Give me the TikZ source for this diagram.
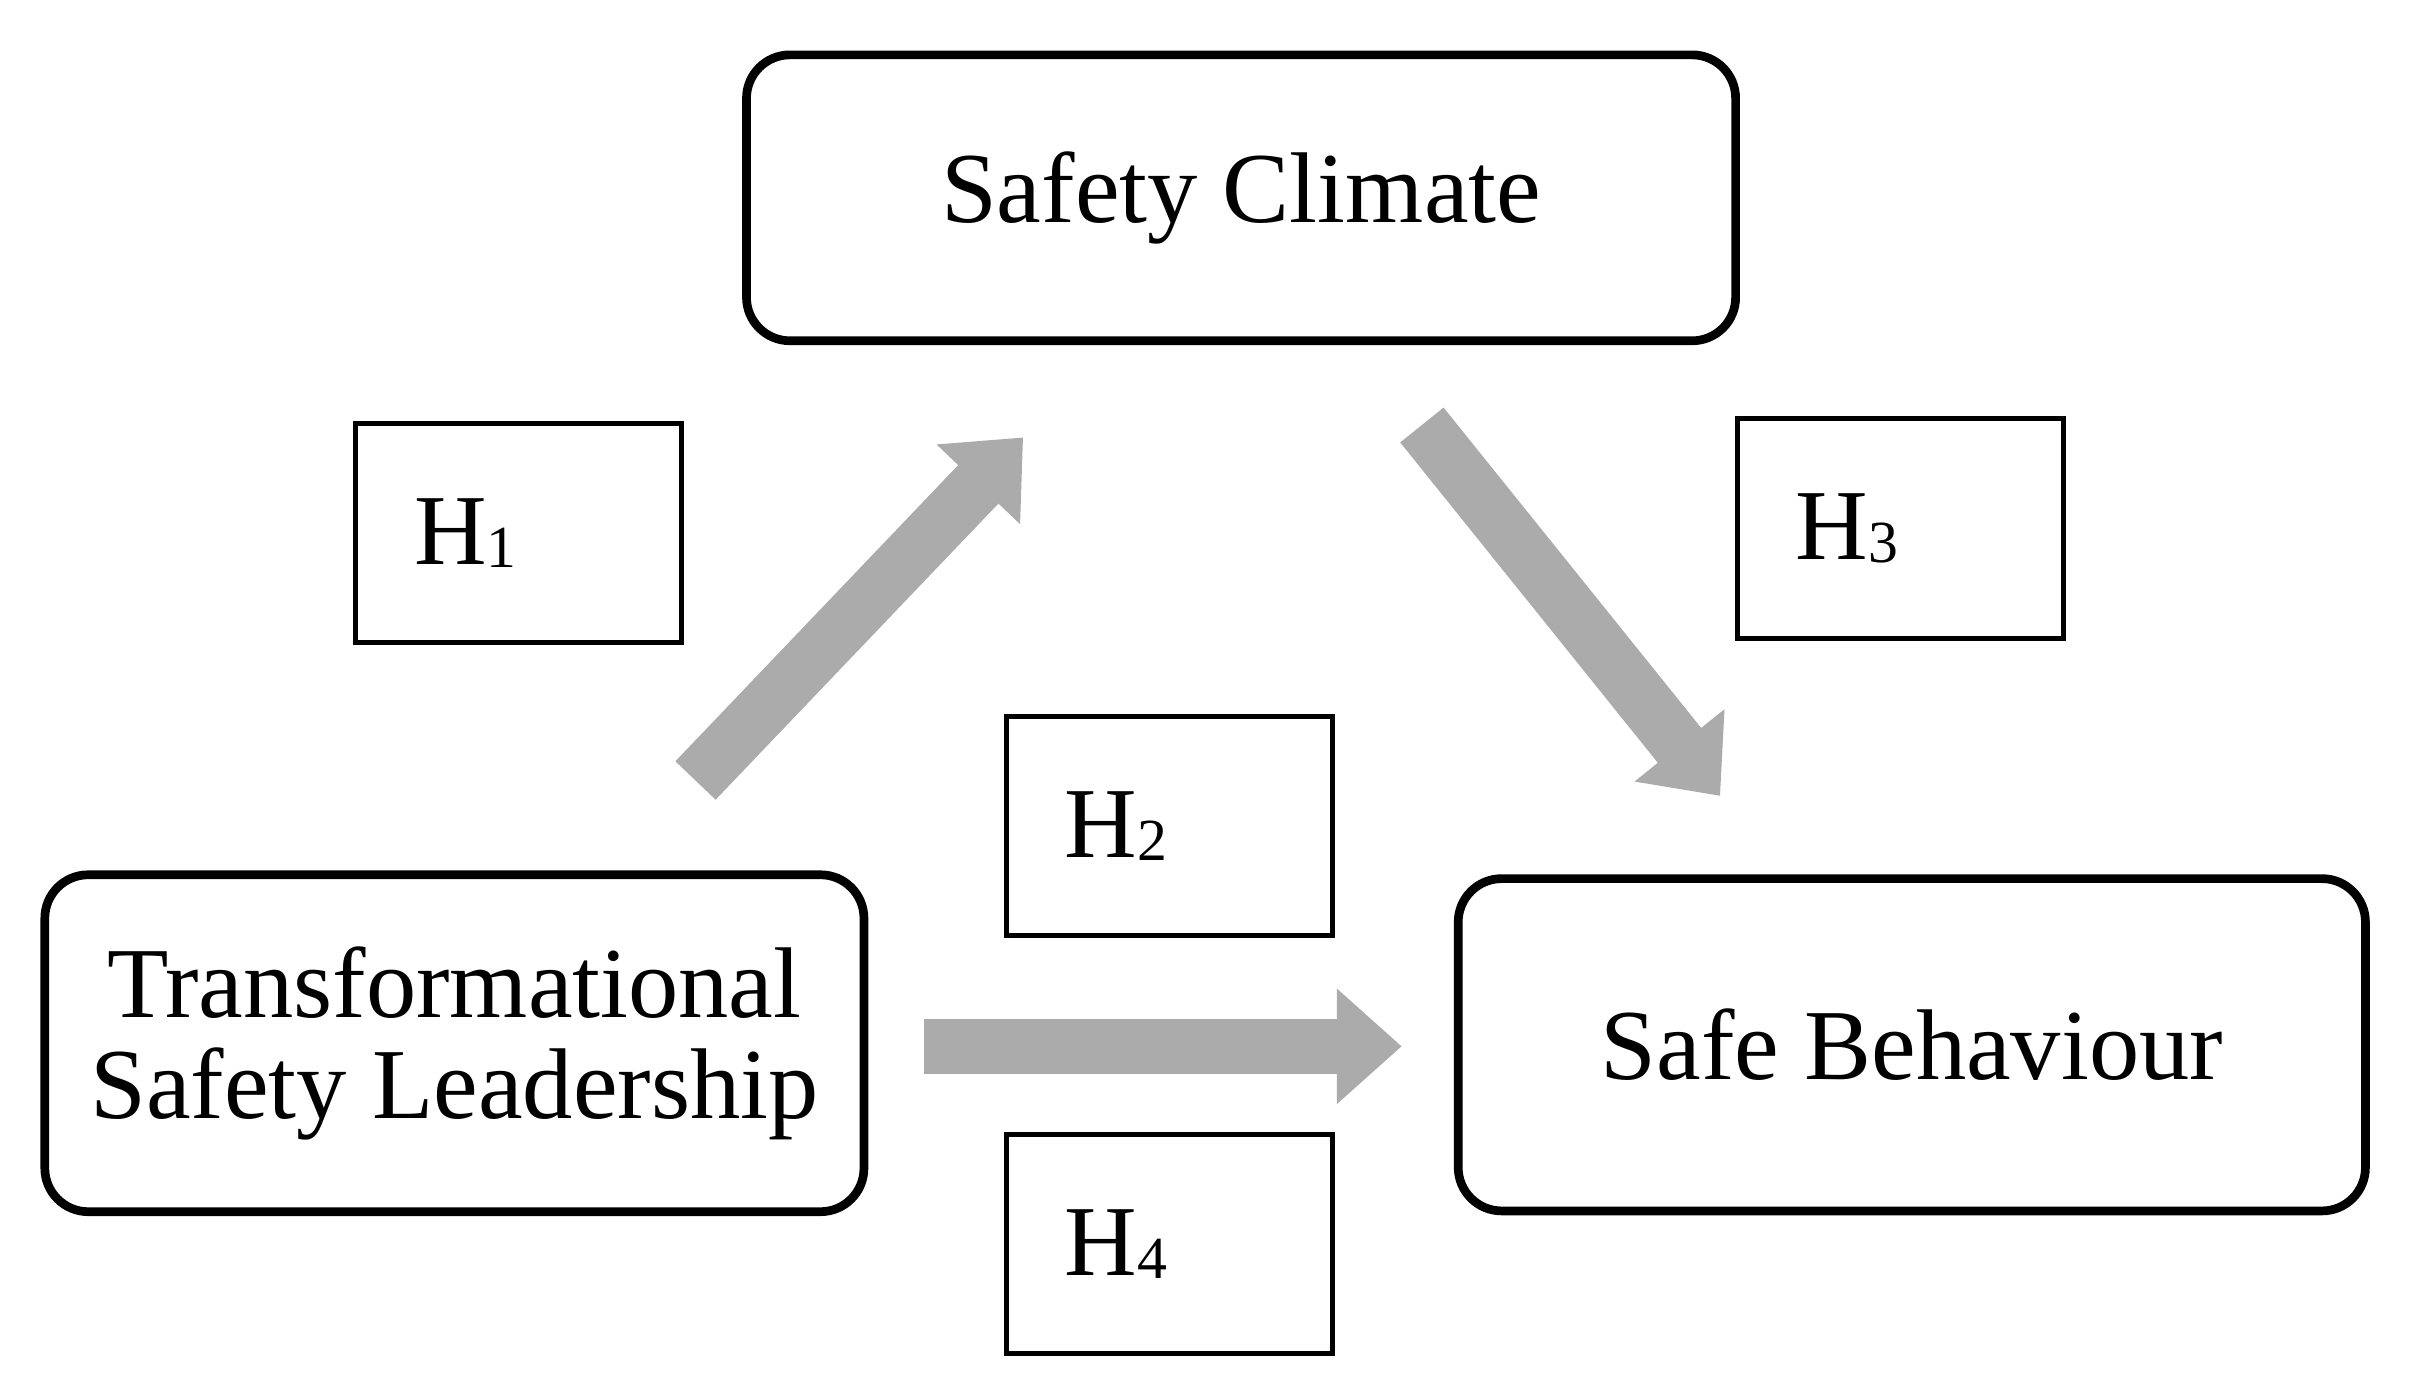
\documentclass[tikz,border=0pt]{standalone}
\usepackage{fontspec}
\setmainfont{Liberation Serif}
\usetikzlibrary{arrows.meta,positioning}
\newcommand\hsub[1]{H\raisebox{-0.5pt}{\fontsize{11}{12}\selectfont#1}}
\tikzset{
  var/.style={draw,line width=1.6pt,rounded corners=8pt,align=center,font=\fontsize{18.5}{18.5}\selectfont},
  hyp/.style={draw,line width=0.9pt,text width=1.35cm,inner xsep=0.38cm,minimum height=1.42cm,align=left,font=\fontsize{18.5}{20}\selectfont},
  flow/.style={line width=0.36cm,draw=black!33,-{Triangle[length=0.42cm,width=0.72cm]}}
}
\begin{document}
\begin{tikzpicture}
\useasboundingbox (0,0) rectangle (15.6,9);
\node[var,minimum width=6.4cm,minimum height=1.85cm] (sc) at (8.03,7.72) {Safety Climate};
\node[var,minimum width=5.3cm,minimum height=2.18cm] (tsl) at (2.94,2.25) {Transformational\\Safety Leadership};
\node[var,minimum width=5.87cm,minimum height=2.15cm] (sb) at (12.37,2.24) {Safe Behaviour};
\node[hyp] (h1) at (3.355,5.55) {\hsub{1}};
\node[hyp] (h3) at (12.295,5.58) {\hsub{3}};
\node[hyp] (h2) at (7.565,3.655) {\hsub{2}};
\node[hyp] (h4) at (7.565,0.95) {\hsub{4}};
\coordinate (a1) at (4.5,3.95);
\coordinate (b1) at (6.62,6.17);
\coordinate (a2) at (9.2,6.25);
\coordinate (b2) at (11.13,3.85);
\coordinate (a3) at (5.98,2.23);
\coordinate (b3) at (9.07,2.23);
\draw[flow] (a1) -- (b1);
\draw[flow] (a2) -- (b2);
\draw[flow] (a3) -- (b3);
\end{tikzpicture}
\end{document}
